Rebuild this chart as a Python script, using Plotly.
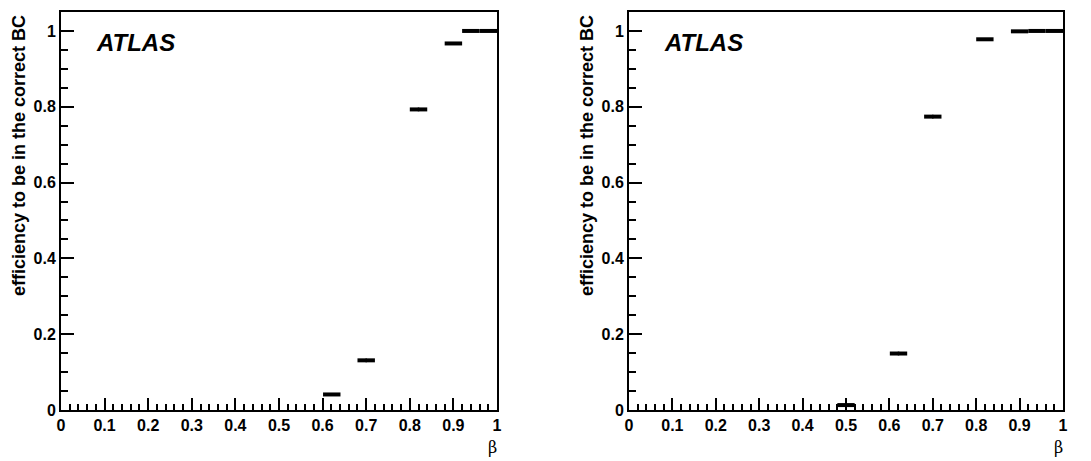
import plotly.graph_objects as go

# left panel: efficiency vs beta
beta_left = [0.621, 0.70, 0.82, 0.90, 0.94, 0.98]
eff_left = [0.041, 0.131, 0.793, 0.967, 1.0, 1.0]
binhw_left = [0.02, 0.02, 0.02, 0.02, 0.02, 0.02]
err_left = [0.004, 0.005, 0.005, 0.003, 0.001, 0.0]

# right panel
beta_right = [0.50, 0.621, 0.70, 0.82, 0.90, 0.94, 0.98]
eff_right = [0.013, 0.149, 0.774, 0.978, 0.999, 1.0, 1.0]
binhw_right = [0.02, 0.02, 0.02, 0.02, 0.02, 0.02, 0.02]
err_right = [0.012, 0.005, 0.005, 0.003, 0.001, 0.0, 0.0]

xticks = [0, 0.1, 0.2, 0.3, 0.4, 0.5, 0.6, 0.7, 0.8, 0.9, 1]
xlabels = ["0", "0.1", "0.2", "0.3", "0.4", "0.5", "0.6", "0.7", "0.8", "0.9", "1"]
yticks = [0, 0.2, 0.4, 0.6, 0.8, 1]
ylabels = ["0", "0.2", "0.4", "0.6", "0.8", "1"]

W, H = 1091, 461
OFF = 8  # page body margin, positions below are in page pixels
sans = "Liberation Sans"


def px(x):
    return (x - OFF) / W


def py(y):
    return 1 - (y - OFF) / H


fig = go.Figure()
for x, y, hw, ey, xa, ya in [(beta_left, eff_left, binhw_left, err_left, "x", "y"),
                             (beta_right, eff_right, binhw_right, err_right, "x2", "y2")]:
    fig.add_trace(go.Scatter(
        x=x, y=y, mode="markers", xaxis=xa, yaxis=ya,
        marker=dict(size=1, color="black"),
        error_x=dict(type="data", array=hw, color="black", thickness=4, width=0),
        error_y=dict(type="data", array=ey, color="black", thickness=1.5, width=0),
        cliponaxis=False, showlegend=False))

xdoms = [[px(61), px(497)], [px(629), px(1063)]]
ydom = [py(410), py(12)]
tfont = dict(family=sans, size=16, color="black", weight="bold")

xstyle = dict(range=[0, 1], tickvals=xticks, ticktext=xlabels, ticks="inside",
              ticklen=12, tickwidth=1.5, tickcolor="black", showline=True,
              linecolor="black", linewidth=2, mirror=True, showgrid=False,
              zeroline=False, tickfont=tfont, automargin=False,
              minor=dict(dtick=0.02, ticks="inside", ticklen=6, tickwidth=1.5,
                         tickcolor="black", showgrid=False))
ystyle = dict(range=[0, 1.05], tickvals=yticks, ticktext=ylabels, ticks="inside",
              ticklen=13, tickwidth=1.5, tickcolor="black", showline=True,
              linecolor="black", linewidth=2, mirror=True, showgrid=False,
              zeroline=False, tickfont=tfont, automargin=False,
              minor=dict(dtick=0.05, ticks="inside", ticklen=7, tickwidth=1.5,
                         tickcolor="black", showgrid=False))

fig.update_layout(
    width=W, height=H, margin=dict(l=0, r=0, t=0, b=0, autoexpand=False),
    paper_bgcolor="white", plot_bgcolor="white",
    xaxis=dict(domain=xdoms[0], anchor="y", **xstyle),
    yaxis=dict(domain=ydom, anchor="x", **ystyle),
    xaxis2=dict(domain=xdoms[1], anchor="y2", **xstyle),
    yaxis2=dict(domain=ydom, anchor="x2", **ystyle),
)

annots = []
for left, right in [(61, 497), (629, 1063)]:
    # ATLAS label
    annots.append(dict(text="<b><i>ATLAS</i></b>", xref="paper", yref="paper",
                       x=px(left + 33), y=py(43), xanchor="left", yanchor="middle",
                       showarrow=False, font=dict(family=sans, size=24, color="black")))
    # y axis title
    annots.append(dict(text="<b>efficiency to be in the correct BC</b>", xref="paper",
                       yref="paper", x=px(left - 42), y=py(156), xanchor="center",
                       yanchor="middle", textangle=-90, showarrow=False,
                       font=dict(family=sans, size=18, color="black")))
    # x axis title
    annots.append(dict(text="β", xref="paper", yref="paper", x=px(right - 5),
                       y=py(447), xanchor="center", yanchor="middle",
                       showarrow=False,
                       font=dict(family="DejaVu Serif", size=16, color="black")))
fig.update_layout(annotations=annots)

fig.write_html("out.html")
